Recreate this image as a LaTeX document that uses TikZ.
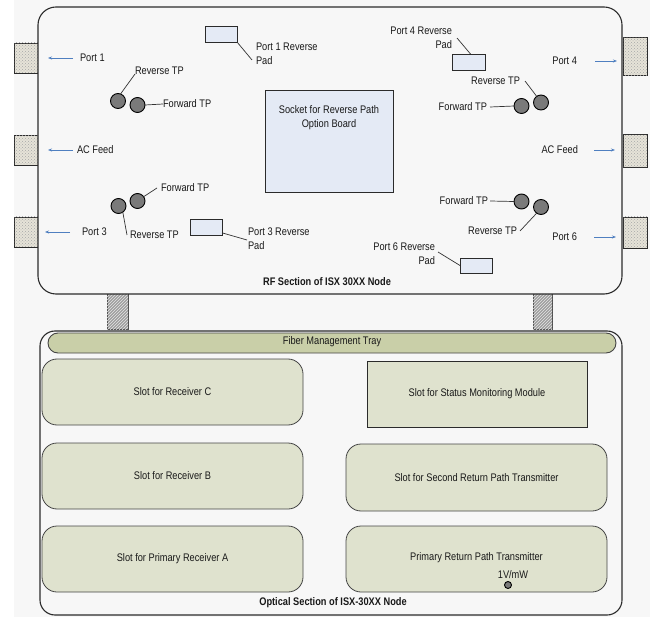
\documentclass[tikz,border=0pt]{standalone}
\usepackage{fontspec}
\setmainfont{Liberation Sans}[FakeStretch=0.84]
\usetikzlibrary{patterns,arrows.meta}
\definecolor{bgray}{HTML}{F7F7F7}
\definecolor{padblue}{HTML}{E4EAF5}
\definecolor{slotgreen}{HTML}{DFE2CE}
\definecolor{traygreen}{HTML}{C9CFA8}
\definecolor{conncol}{HTML}{E6E3D8}
\definecolor{arrowblue}{HTML}{4F7FC0}
\definecolor{tpgray}{HTML}{7A7A7A}
\definecolor{edgec}{HTML}{2B2B2B}
\definecolor{slotedge}{HTML}{454545}
\tikzset{
  lbl/.style={inner sep=0pt, outer sep=0pt, text=black!90},
  boxbase/.style={draw=edgec, inner sep=0pt, outer sep=0pt},
  bigbox/.style={boxbase, fill=bgray, line width=1.1pt},
  slotbox/.style={boxbase, draw=slotedge, fill=slotgreen, line width=0.8pt, rounded corners=15pt, align=center, text=black!90},
  padbox/.style={boxbase, fill=padblue, line width=0.8pt},
  connbox/.style={boxbase, fill=conncol, line width=0.9pt, postaction={pattern=crosshatch dots, pattern color=gray!70}},
  hatchbox/.style={draw=gray!60!black, fill=gray!75, line width=0.6pt, inner sep=0pt, outer sep=0pt, postaction={pattern=north east lines, pattern color=white!80!gray}},
  tpcirc/.style={draw=black, fill=tpgray, line width=0.9pt, circle, inner sep=0pt, outer sep=0pt, minimum size=15pt},
  leader/.style={draw=black!80, line width=0.7pt},
  arr/.style={draw=arrowblue, line width=0.7pt, -{Stealth[length=4pt,width=3pt]}},
  twoline/.style={lbl, font=\fontsize{11}{14}\selectfont}
}
\begin{document}
\begin{tikzpicture}[x=1pt,y=-1pt, font=\fontsize{11}{13}\selectfont]
\useasboundingbox (0,0) rectangle (650,617);
\fill[white] (0,0) rectangle (650,617);
\fill[bgray] (14,0) rectangle (650,617);

% side connectors
\node[connbox, minimum width=24pt, minimum height=30pt] (lcon1) at (26,58) {};
\node[connbox, minimum width=24pt, minimum height=30pt] (lcon2) at (26,150) {};
\node[connbox, minimum width=24pt, minimum height=30pt] (lcon3) at (26,232) {};
\node[connbox, minimum width=24pt, minimum height=38pt] (rcon1) at (635,56.5) {};
\node[connbox, minimum width=24pt, minimum height=33pt] (rcon2) at (635,151) {};
\node[connbox, minimum width=24pt, minimum height=31pt] (rcon3) at (635,232.5) {};

% hatched bridges
\node[hatchbox, minimum width=21pt, minimum height=36pt] (bridgeL) at (117.5,311.5) {};
\node[hatchbox, minimum width=19pt, minimum height=36pt] (bridgeR) at (542.5,311.5) {};

% RF box
\node[bigbox, rounded corners=18pt, minimum width=584pt, minimum height=287pt] (rf) at (330,150.5) {};
% Optical box
\node[bigbox, rounded corners=15pt, minimum width=582pt, minimum height=284pt] (opt) at (331,473) {};

% socket
\node[padbox, line width=0.9pt, minimum width=128pt, minimum height=102pt] (socket) at (329,141) {};
\node[lbl, align=center, font=\fontsize{11}{14}\selectfont] (socktxt) at (329,118) {Socket for Reverse Path\\Option Board};

% pads
\node[padbox, minimum width=32pt, minimum height=16pt] (pad1) at (221,34) {};
\node[padbox, minimum width=32pt, minimum height=16pt] (pad3) at (206,227) {};
\node[padbox, minimum width=33pt, minimum height=16pt] (pad4) at (468.5,62) {};
\node[padbox, minimum width=32pt, minimum height=15pt] (pad6) at (476,265.5) {};
\node[twoline, align=left, anchor=west] (p1lab) at (256,54) {Port 1 Reverse\\Pad};
\node[twoline, align=left, anchor=west] (p3lab) at (248,239) {Port 3 Reverse\\Pad};
\node[twoline, align=right, anchor=east] (p4lab) at (452,38) {Port 4 Reverse\\Pad};
\node[twoline, align=right, anchor=east] (p6lab) at (435,254) {Port 6 Reverse\\Pad};
\draw[leader] (pad1.south east) -- ([xshift=-4pt,yshift=-6pt]p1lab.west);
\draw[leader] (pad3.-20) -- ([xshift=-1pt,yshift=-1pt]p3lab.west);
\draw[leader] ([xshift=5pt]p4lab.east) -- ([xshift=2pt]pad4.north);
\draw[leader] ([xshift=3pt,yshift=2pt]p6lab.east) -- (pad6.west);

% port labels and arrows
\node[lbl, anchor=west] (lp1) at (80,58) {Port 1};
\node[lbl, anchor=west] (lp2) at (77,150) {AC Feed};
\node[lbl, anchor=west] (lp3) at (82,232) {Port 3};
\node[lbl, anchor=east] (rp1) at (577,61) {Port 4};
\node[lbl, anchor=east] (rp2) at (578,150) {AC Feed};
\node[lbl, anchor=east] (rp3) at (577,237) {Port 6};
\draw[arr] ([xshift=-7pt]lp1.west) -- ([xshift=10pt]lcon1.east);
\draw[arr] ([xshift=-4pt]lp2.west) -- ([xshift=10pt]lcon2.east);
\draw[arr] ([xshift=-12pt]lp3.west) -- ([xshift=7pt]lcon3.east);
\draw[arr] ([xshift=18pt]rp1.east) -- ([xshift=-6pt,yshift=-4.5pt]rcon1.west);
\draw[arr] ([xshift=16pt]rp2.east) -- ([xshift=-8pt,yshift=1pt]rcon2.west);
\draw[arr] ([xshift=17pt]rp3.east) -- ([xshift=-7pt,yshift=-4.5pt]rcon3.west);

% test points top-left
\node[tpcirc] (c1) at (118,101) {};
\node[tpcirc] (c2) at (137.5,105) {};
\node[lbl, anchor=west] (rtp1) at (135,71) {Reverse TP};
\node[lbl, anchor=west] (ftp1) at (163,104) {Forward TP};
\draw[leader] (c1.70) -- ([yshift=-3pt]rtp1.west);
\draw[leader] (c2.east) -- (ftp1.west);
% bottom-left
\node[tpcirc] (c3) at (118.5,206) {};
\node[tpcirc] (c4) at (137.5,201) {};
\node[lbl, anchor=west] (ftp2) at (161,188) {Forward TP};
\node[lbl, anchor=west] (rtp2) at (130,235) {Reverse TP};
\draw[leader] (c4.35) -- ([xshift=-4pt]ftp2.west);
\draw[leader] (c3.-55) -- ([xshift=-3pt]rtp2.west);
% top-right
\node[tpcirc] (c5) at (521.5,106) {};
\node[tpcirc] (c6) at (541,102.5) {};
\node[lbl, anchor=east] (rtp3) at (520,81) {Reverse TP};
\node[lbl, anchor=east] (ftp3) at (487,107) {Forward TP};
\draw[leader] ([xshift=5pt]rtp3.east) -- (c6.125);
\draw[leader] ([xshift=3pt]ftp3.east) -- (c5.west);
% bottom-right
\node[tpcirc] (c7) at (521.5,201.5) {};
\node[tpcirc] (c8) at (541,207) {};
\node[lbl, anchor=east] (ftp4) at (488,201) {Forward TP};
\node[lbl, anchor=east] (rtp4) at (517,231) {Reverse TP};
\draw[leader] ([xshift=2pt]ftp4.east) -- (c7.west);
\draw[leader] ([xshift=3pt]rtp4.east) -- (c8.-125);

\node[lbl, font=\fontsize{11}{13}\selectfont\bfseries] (rftitle) at (327,282) {RF Section of ISX 30XX Node};

% optical section
\node[boxbase, draw=slotedge, fill=traygreen, line width=0.9pt, rounded corners=10pt, minimum width=568pt, minimum height=20pt] (tray) at (332,343) {};
\node[lbl] (traytxt) at (332,342) {Fiber Management Tray};
\node[slotbox, minimum width=261pt, minimum height=66pt] (rxc) at (172.5,392) {Slot for Receiver C};
\node[slotbox, minimum width=261pt, minimum height=66pt] (rxb) at (172.5,476) {Slot for Receiver B};
\node[slotbox, minimum width=261pt, minimum height=66pt] (rxa) at (172.5,559) {Slot for Primary Receiver A};
\node[slotbox, draw=edgec, rounded corners=0pt, minimum width=220pt, minimum height=66pt] (sm) at (477,394) {Slot for Status Monitoring Module};
\node[slotbox, minimum width=261pt, minimum height=67pt] (tx2) at (476.5,477.5) {Slot for Second Return Path Transmitter};
\node[slotbox, minimum width=261pt, minimum height=66pt] (tx1) at (476.5,559) {};
\node[lbl] (tx1txt) at (476.5,558) {Primary Return Path Transmitter};
\node[lbl] (mw) at (513,575) {1V/mW};
\node[circle, draw=black, fill=tpgray, line width=0.9pt, inner sep=0pt, minimum size=7pt] (mwdot) at (508,585) {};
\node[lbl, font=\fontsize{11}{13}\selectfont\bfseries] (opttitle) at (333,603) {Optical Section of ISX-30XX Node};
\end{tikzpicture}
\end{document}
